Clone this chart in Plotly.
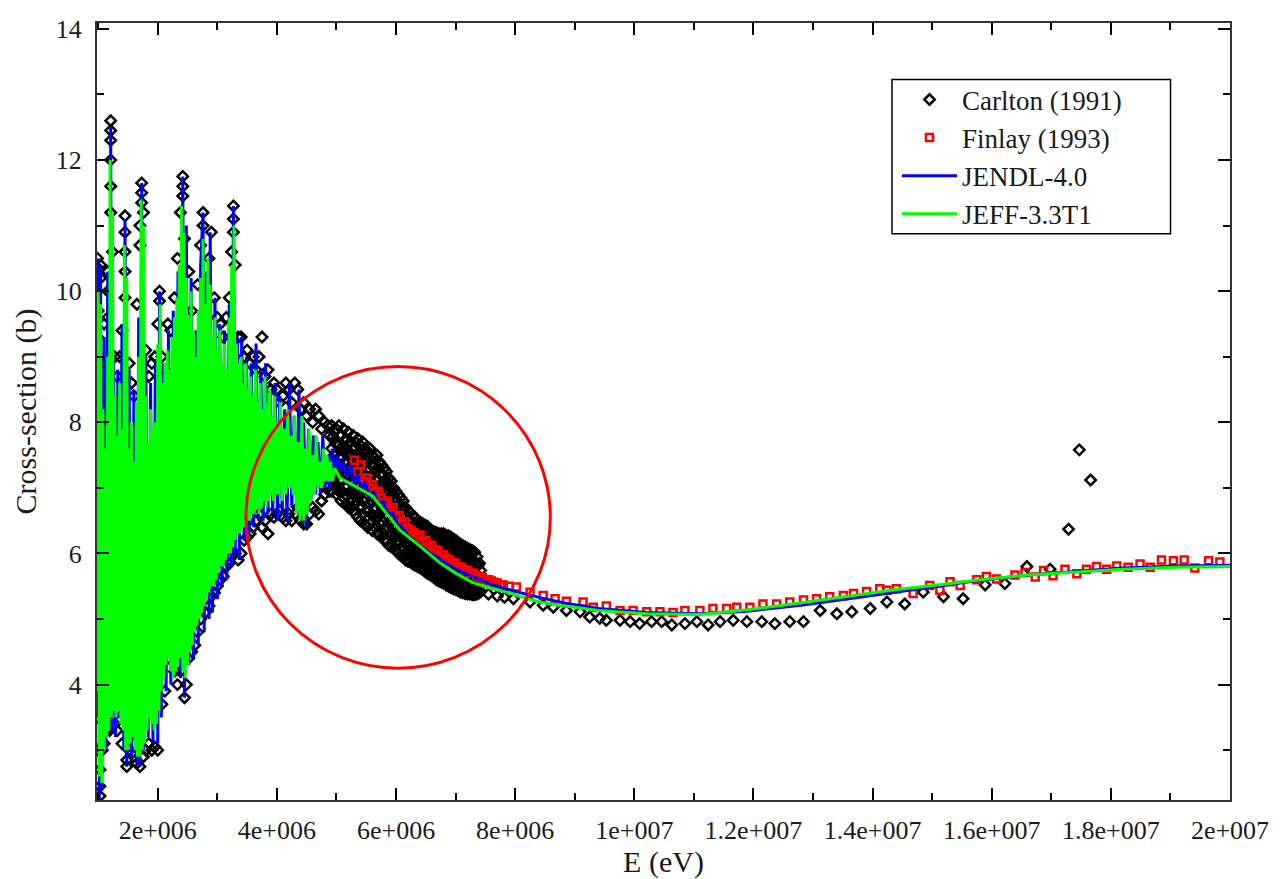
import plotly.graph_objects as go

# ---------------- data (energies in MeV, cross-sections in barn) ----------------
# JEFF-3.3T1 (green)
jeff_e = [0.98, 1.00, 1.02, 1.04, 1.06, 1.08, 1.10, 1.12, 1.14, 1.16, 1.18, 1.20, 1.22, 1.24, 1.26, 1.28,
          1.30, 1.32, 1.34, 1.36, 1.38, 1.40, 1.42, 1.44, 1.46, 1.48, 1.50, 1.52, 1.54, 1.56, 1.58, 1.60,
          1.62, 1.64, 1.66, 1.68, 1.70, 1.72, 1.74, 1.76, 1.78, 1.80, 1.82, 1.84, 1.86, 1.88, 1.90, 1.92,
          1.94, 1.96, 1.98, 2.00, 2.02, 2.04, 2.06, 2.08, 2.10, 2.12, 2.14, 2.16, 2.18, 2.20, 2.22, 2.24,
          2.26, 2.28, 2.30, 2.32, 2.34, 2.36, 2.38, 2.40, 2.42, 2.44, 2.46, 2.48, 2.50, 2.52, 2.54, 2.56,
          2.58, 2.60, 2.62, 2.64, 2.66, 2.68, 2.70, 2.72, 2.74, 2.76, 2.78, 2.80, 2.82, 2.84, 2.86, 2.88,
          2.90, 2.92, 2.94, 2.96, 2.98, 3.00, 3.02, 3.04, 3.06, 3.08, 3.10, 3.12, 3.14, 3.16, 3.18, 3.20,
          3.22, 3.24, 3.26, 3.28, 3.30, 3.32, 3.34, 3.36, 3.38, 3.40, 3.42, 3.44, 3.46, 3.48, 3.50, 3.52,
          3.54, 3.56, 3.58, 3.60, 3.62, 3.64, 3.66, 3.68, 3.70, 3.72, 3.74, 3.76, 3.78, 3.80, 3.82, 3.84,
          3.86, 3.88, 3.90, 3.92, 3.94, 3.96, 3.98, 4.00, 4.03, 4.06, 4.09, 4.12, 4.15, 4.18, 4.21, 4.24,
          4.27, 4.30, 4.33, 4.36, 4.39, 4.42, 4.45, 4.48, 4.51, 4.54, 4.57, 4.60, 4.63, 4.66, 4.69, 4.72,
          4.75, 4.78, 4.81, 4.84, 4.87, 4.90, 4.93, 4.97,
          5.06, 5.30, 5.60, 5.85, 6.06, 6.39, 6.73, 7.00, 7.28, 7.55, 7.85, 8.41, 8.74, 9.40, 10.2, 11.1,
          11.9, 12.8, 13.6, 14.4, 15.2, 15.8, 16.6, 17.4, 18.2, 19.1, 20.0]
jeff_s = [3.9, 10.0, 2.6, 9.8, 2.5, 8.2, 3.0, 7.6, 3.2, 9.0, 3.3, 12.0, 3.5, 11.2, 3.6, 8.4,
          3.5, 7.8, 3.6, 8.6, 3.4, 7.9, 3.3, 10.7, 3.0, 10.2, 3.0, 7.6, 3.1, 8.0, 3.2, 7.4,
          3.0, 8.3, 2.9, 9.0, 2.9, 11.4, 3.0, 11.0, 3.1, 8.4, 3.3, 7.7, 3.5, 8.2, 3.4, 7.9,
          3.3, 8.0, 3.4, 9.2, 3.6, 9.8, 3.9, 8.6, 4.1, 8.9, 4.3, 9.1, 4.4, 8.8, 4.2, 9.3,
          4.1, 9.6, 4.2, 9.9, 4.3, 10.4, 4.4, 11.3, 4.2, 10.9, 4.1, 10.2, 4.3, 9.6, 4.5, 10.0,
          4.6, 9.4, 4.8, 9.0, 4.9, 9.7, 5.0, 10.2, 5.1, 10.8, 5.2, 9.8, 5.3, 10.5, 5.4, 10.1,
          5.5, 9.3, 5.5, 9.6, 5.6, 9.1, 5.7, 9.4, 5.8, 8.9, 5.8, 9.2, 5.9, 8.8, 6.0, 9.6,
          6.0, 10.4, 6.1, 11.0, 6.2, 9.2, 6.3, 8.9, 6.3, 9.0, 6.4, 8.6, 6.4, 8.9, 6.5, 8.5,
          6.5, 8.7, 6.6, 8.4, 6.6, 8.8, 6.7, 8.3, 6.6, 8.6, 6.7, 8.2, 6.8, 8.7, 6.7, 8.3,
          6.8, 8.5, 6.9, 8.1, 6.8, 8.4, 6.9, 8.0, 6.9, 8.3, 6.8, 7.9, 6.9, 8.2, 7.0, 7.8,
          6.9, 8.1, 6.6, 7.7, 6.5, 8.1, 6.5, 7.6, 6.6, 7.9, 6.8, 7.5, 6.9, 7.8, 7.0, 7.4,
          7.0, 7.6, 7.1, 7.5, 7.1, 7.4, 7.1, 7.3,
          7.15, 7.03, 6.88, 6.6, 6.36, 6.12, 5.86, 5.7, 5.56, 5.48, 5.41, 5.26, 5.21, 5.13, 5.08, 5.07,
          5.14, 5.25, 5.35, 5.45, 5.53, 5.60, 5.67, 5.72, 5.76, 5.79, 5.80]

# JENDL-4.0 (blue)
jendl_e = [0.98, 1.00, 1.02, 1.04, 1.06, 1.10, 1.13, 1.16, 1.19, 1.21, 1.23, 1.26, 1.29, 1.33, 1.36, 1.40,
           1.43, 1.45, 1.48, 1.52, 1.56, 1.60, 1.64, 1.68, 1.70, 1.73, 1.76, 1.80, 1.84, 1.88, 1.92, 1.96,
           2.00, 2.03, 2.06, 2.10, 2.14, 2.18, 2.22, 2.26, 2.30, 2.34, 2.38, 2.42, 2.45, 2.48, 2.52, 2.56,
           2.60, 2.64, 2.68, 2.72, 2.76, 2.78, 2.82, 2.86, 2.88, 2.92, 2.96, 3.00, 3.04, 3.08, 3.12, 3.16,
           3.20, 3.24, 3.27, 3.30, 3.34, 3.37, 3.41, 3.45, 3.49, 3.53, 3.57, 3.61, 3.65, 3.69, 3.73, 3.77,
           3.81, 3.85, 3.89, 3.93, 3.97, 4.01, 4.05, 4.09, 4.13, 4.17, 4.21, 4.25, 4.29, 4.33, 4.37, 4.41,
           4.45, 4.49, 4.53, 4.57, 4.61, 4.65, 4.69, 4.73, 4.77, 4.81, 4.85, 4.89, 4.93, 4.97,
           5.02, 5.07, 5.12, 5.18, 5.24, 5.30, 5.36, 5.42, 5.48, 5.55, 5.62, 5.70, 5.78, 5.86, 5.94, 6.02,
           6.10, 6.20, 6.30, 6.40, 6.55, 6.70, 6.85, 7.00, 7.20, 7.40, 7.60, 7.80, 8.00, 8.40, 8.80, 9.40,
           10.2, 11.1, 11.9, 12.8, 13.6, 14.4, 15.2, 15.8, 16.6, 17.4, 18.2, 19.1, 20.0]
jendl_s = [3.5, 10.5, 2.25, 10.4, 2.4, 9.3, 3.0, 10.3, 3.4, 12.5, 3.3, 9.0, 3.2, 8.8, 3.5, 9.5,
           3.0, 11.1, 2.75, 8.8, 2.9, 8.5, 2.8, 9.6, 2.75, 11.65, 3.0, 9.0, 3.2, 8.6, 3.1, 8.9,
           3.1, 10.0, 3.5, 8.9, 3.9, 9.4, 4.0, 9.7, 4.2, 10.3, 4.1, 11.75, 3.8, 11.0, 4.3, 10.2,
           4.4, 9.4, 4.6, 10.4, 11.2, 4.8, 10.3, 5.0, 10.9, 5.1, 9.9, 5.3, 9.5, 5.5, 9.4, 5.6,
           9.8, 5.8, 11.3, 6.0, 9.3, 5.9, 9.3, 6.2, 9.0, 6.3, 8.9, 6.4, 9.2, 6.5, 8.8, 6.5,
           8.9, 6.6, 8.5, 6.6, 8.6, 6.5, 8.4, 6.6, 8.2, 6.5, 8.6, 6.7, 8.1, 6.7, 8.5, 6.5,
           8.0, 6.4, 7.9, 6.8, 7.8, 6.9, 7.7, 6.9, 7.8, 7.0, 7.5, 7.0, 7.6, 7.2,
           7.5, 7.25, 7.4, 7.15, 7.35, 7.05, 7.2, 6.95, 7.1, 6.85, 6.95, 6.75, 6.8, 6.6, 6.62, 6.45,
           6.4, 6.28, 6.2, 6.12, 6.02, 5.93, 5.84, 5.76, 5.68, 5.6, 5.53, 5.47, 5.42, 5.33, 5.25, 5.16,
           5.10, 5.08, 5.12, 5.21, 5.31, 5.41, 5.51, 5.59, 5.67, 5.73, 5.78, 5.81, 5.82]

# Carlton (1991) (black open diamonds) - resonance region, dense band and sparse tail
carlton_e = [0.99, 1.00, 0.99, 1.00, 0.99, 1.00, 0.99, 1.00, 0.99, 1.00, 0.99, 1.00, 0.99, 1.00, 0.99, 1.00, 0.99, 1.00,
             1.03, 1.03, 1.03, 1.04, 1.04, 1.07, 1.07, 1.07, 1.10, 1.10, 1.13, 1.13, 1.16, 1.16, 1.16, 1.16, 1.19,
             1.21, 1.21, 1.21, 1.21, 1.21, 1.21, 1.24, 1.24, 1.28, 1.28, 1.32, 1.32, 1.36, 1.36, 1.40, 1.40,
             1.45, 1.45, 1.45, 1.45, 1.45, 1.48, 1.48, 1.52, 1.52, 1.56, 1.56, 1.60, 1.60, 1.65, 1.65,
             1.70, 1.70, 1.70, 1.73, 1.73, 1.73, 1.76, 1.76, 1.80, 1.80, 1.85, 1.85, 1.90, 1.90, 1.95, 1.95,
             2.00, 2.00, 2.03, 2.03, 2.07, 2.07, 2.12, 2.12, 2.17, 2.17, 2.22, 2.22, 2.28, 2.28, 2.33, 2.33,
             2.38, 2.38, 2.42, 2.42, 2.42, 2.45, 2.45, 2.48, 2.52, 2.52, 2.57, 2.57, 2.62, 2.62, 2.67, 2.67,
             2.72, 2.72, 2.76, 2.76, 2.80, 2.80, 2.86, 2.86, 2.90, 2.90, 2.95, 2.95, 3.00, 3.00, 3.05, 3.05,
             3.10, 3.10, 3.15, 3.15, 3.20, 3.20, 3.24, 3.24, 3.27, 3.27, 3.27, 3.30, 3.30, 3.35, 3.35,
             3.40, 3.40, 3.45, 3.45, 3.50, 3.50, 3.55, 3.55, 3.60, 3.60, 3.65, 3.65, 3.70, 3.70, 3.75, 3.75,
             3.80, 3.80, 3.85, 3.85, 3.90, 3.90, 3.95, 3.95, 4.00, 4.00, 4.05, 4.05, 4.10, 4.10, 4.15, 4.15,
             4.20, 4.20, 4.25, 4.25, 4.30, 4.30, 4.35, 4.35, 4.40, 4.40, 4.45, 4.45, 4.50, 4.50, 4.55, 4.55,
             4.60, 4.60, 4.65, 4.65, 4.70, 4.70, 4.75, 4.75, 4.80, 4.80, 4.85, 4.85, 4.88, 4.88,
             4.92, 4.92, 4.92, 4.92, 4.96, 4.96, 4.96, 5.00, 5.00, 5.00, 5.00, 5.04, 5.04, 5.04, 5.04,
             5.08, 5.08, 5.08, 5.08, 5.12, 5.12, 5.12, 5.12, 5.16, 5.16, 5.16, 5.16, 5.20, 5.20, 5.20, 5.20,
             5.24, 5.24, 5.24, 5.24, 5.28, 5.28, 5.28, 5.28, 5.32, 5.32, 5.32, 5.32, 5.36, 5.36, 5.36, 5.36,
             5.40, 5.40, 5.40, 5.40, 5.44, 5.44, 5.44, 5.44, 5.48, 5.48, 5.48, 5.48, 5.52, 5.52, 5.52, 5.52,
             5.56, 5.56, 5.56, 5.56, 5.60, 5.60, 5.60, 5.60, 5.64, 5.64, 5.64, 5.64, 5.68, 5.68, 5.68, 5.68,
             5.72, 5.72, 5.72, 5.72, 5.76, 5.76, 5.76, 5.76, 5.80, 5.80, 5.80, 5.80, 5.84, 5.84, 5.84, 5.84,
             5.88, 5.88, 5.88, 5.88, 5.92, 5.92, 5.92, 5.92, 5.96, 5.96, 5.96, 5.96, 6.00, 6.00, 6.00, 6.00,
             6.04, 6.04, 6.04, 6.04, 6.08, 6.08, 6.08, 6.08, 6.12, 6.12, 6.12, 6.12, 6.16, 6.16, 6.16, 6.16,
             6.20, 6.20, 6.20, 6.20, 6.24, 6.24, 6.24, 6.24, 6.28, 6.28, 6.28, 6.28, 6.32, 6.32, 6.32, 6.32,
             6.36, 6.36, 6.36, 6.36, 6.40, 6.40, 6.40, 6.40, 6.44, 6.44, 6.44, 6.44, 6.48, 6.48, 6.48, 6.48,
             6.52, 6.52, 6.52, 6.52, 6.56, 6.56, 6.56, 6.56, 6.60, 6.60, 6.60, 6.60, 6.64, 6.64, 6.64, 6.64,
             6.68, 6.68, 6.68, 6.68, 6.72, 6.72, 6.72, 6.72, 6.76, 6.76, 6.76, 6.76, 6.80, 6.80, 6.80, 6.80,
             6.84, 6.84, 6.84, 6.84, 6.88, 6.88, 6.88, 6.88, 6.92, 6.92, 6.92, 6.92, 6.96, 6.96, 6.96, 6.96,
             7.00, 7.00, 7.00, 7.00, 7.04, 7.04, 7.04, 7.04, 7.08, 7.08, 7.08, 7.08, 7.12, 7.12, 7.12, 7.12,
             7.16, 7.16, 7.16, 7.16, 7.20, 7.20, 7.20, 7.20, 7.24, 7.24, 7.24, 7.24, 7.28, 7.28, 7.28, 7.28,
             7.32, 7.32, 7.32, 7.32, 7.36, 7.36, 7.36, 7.36, 7.40, 7.40, 7.40, 7.40,
             7.55, 7.70, 7.82, 7.97, 8.25, 8.47, 8.64, 8.86, 9.09, 9.25, 9.42, 9.53, 9.76, 9.93, 10.09,
             10.29, 10.46, 10.63, 10.85, 11.05, 11.24, 11.44, 11.66, 11.89, 12.14, 12.36, 12.61, 12.84,
             13.12, 13.40, 13.65, 13.96, 14.24, 14.54, 14.85, 15.19, 15.52, 15.89, 16.22, 16.59, 16.98,
             17.29, 17.47, 17.66]
carlton_s = [10.5, 10.35, 10.0, 9.7, 9.3, 8.9, 8.4, 8.0, 7.5, 7.0, 6.5, 6.0, 5.5, 5.0, 4.5, 4.0, 3.5, 3.0,
             2.3, 2.45, 2.7, 10.4, 10.2, 8.9, 8.2, 3.0, 9.5, 3.1, 8.0, 3.3, 10.3, 10.0, 9.6, 3.4, 3.3,
             12.6, 12.45, 12.3, 12.0, 11.6, 11.2, 3.5, 10.6, 9.0, 3.4, 8.7, 3.3, 9.0, 3.6, 9.4, 3.1,
             11.15, 10.9, 10.6, 10.3, 9.9, 2.75, 2.85, 8.9, 3.0, 8.6, 2.95, 8.4, 3.1, 9.8, 2.8,
             11.0, 10.7, 2.75, 11.65, 11.5, 11.35, 11.2, 2.9, 9.1, 3.0, 8.7, 3.1, 8.9, 3.0, 9.0, 3.05,
             3.0, 9.5, 10.0, 9.85, 3.7, 9.0, 3.9, 8.8, 4.4, 9.5, 4.8, 9.4, 4.2, 9.9, 4.0, 10.5,
             11.2, 4.2, 11.75, 11.6, 11.45, 3.8, 10.8, 4.0, 4.4, 10.3, 4.5, 9.7, 4.6, 9.3, 4.8, 10.1,
             5.0, 10.7, 11.2, 11.0, 5.1, 10.0, 5.2, 10.5, 10.9, 5.35, 5.4, 9.9, 5.5, 9.6, 5.6, 9.5,
             5.65, 9.3, 5.8, 9.6, 5.85, 9.9, 10.6, 5.95, 11.3, 11.1, 10.9, 10.4, 6.0, 5.9, 9.3,
             6.0, 9.3, 6.2, 9.0, 6.25, 9.1, 6.3, 8.9, 6.4, 9.0, 6.5, 8.8, 6.6, 9.0, 6.4, 9.3,
             6.5, 8.7, 6.3, 8.8, 6.6, 8.5, 6.55, 8.6, 6.6, 8.5, 6.65, 8.3, 6.55, 8.4, 6.5, 8.6,
             6.6, 8.5, 6.5, 8.3, 6.6, 8.6, 6.7, 8.5, 6.5, 8.2, 6.45, 8.3, 6.45, 8.1, 6.6, 8.2,
             6.7, 8.0, 6.65, 8.2, 6.6, 8.1, 6.8, 7.9, 6.9, 8.0, 7.0, 7.95, 6.95, 7.8,
             7.95, 7.6, 7.25, 6.95, 7.85, 7.5, 7.15, 7.9, 7.4, 7.05, 6.9, 7.95, 7.65, 7.3, 6.95,
             7.8, 7.45, 7.1, 6.8, 7.9, 7.55, 7.2, 6.85, 7.75, 7.4, 7.0, 6.75, 7.85, 7.5, 7.15, 6.7,
             7.7, 7.3, 6.95, 6.7, 7.8, 7.45, 7.1, 6.65, 7.7, 7.35, 6.95, 6.6, 7.75, 7.2, 6.85, 6.55,
             7.65, 7.3, 6.95, 6.5, 7.7, 7.4, 7.0, 6.6, 7.6, 7.2, 6.85, 6.45, 7.55, 7.25, 6.9, 6.4,
             7.6, 7.1, 6.75, 6.45, 7.5, 7.2, 6.8, 6.35, 7.45, 7.05, 6.7, 6.4, 7.5, 7.15, 6.8, 6.3,
             7.4, 7.0, 6.6, 6.28, 7.35, 7.05, 6.7, 6.25, 7.3, 6.95, 6.55, 6.2, 7.25, 6.9, 6.6, 6.2,
             7.15, 6.85, 6.45, 6.12, 7.1, 6.75, 6.5, 6.1, 7.0, 6.7, 6.4, 6.08, 6.95, 6.65, 6.3, 6.05,
             6.9, 6.6, 6.35, 6.0, 6.85, 6.5, 6.25, 5.97, 6.8, 6.55, 6.2, 5.95, 6.7, 6.45, 6.15, 5.9,
             6.65, 6.4, 6.1, 5.88, 6.62, 6.35, 6.05, 5.87, 6.58, 6.3, 6.0, 5.84, 6.55, 6.28, 6.05, 5.82,
             6.5, 6.25, 5.98, 5.8, 6.48, 6.2, 5.95, 5.78, 6.46, 6.18, 5.92, 5.76, 6.43, 6.15, 5.9, 5.73,
             6.42, 6.12, 5.86, 5.7, 6.38, 6.1, 5.85, 5.68, 6.35, 6.08, 5.82, 5.66, 6.33, 6.05, 5.8, 5.63,
             6.32, 6.02, 5.77, 5.6, 6.3, 6.0, 5.75, 5.58, 6.3, 5.98, 5.72, 5.56, 6.3, 5.96, 5.7, 5.55,
             6.28, 5.95, 5.68, 5.52, 6.27, 5.93, 5.66, 5.5, 6.25, 5.9, 5.64, 5.48, 6.22, 5.88, 5.62, 5.46,
             6.2, 5.86, 5.6, 5.45, 6.17, 5.84, 5.58, 5.43, 6.14, 5.82, 5.56, 5.41, 6.12, 5.8, 5.55, 5.4,
             6.1, 5.78, 5.53, 5.39, 6.08, 5.76, 5.52, 5.38, 6.06, 5.74, 5.5, 5.38, 6.04, 5.72, 5.48, 5.37,
             6.02, 5.7, 5.47, 5.37, 5.95, 5.68, 5.45, 5.38, 5.85, 5.62, 5.43, 5.4,
             5.38, 5.35, 5.33, 5.31, 5.26, 5.21, 5.18, 5.13, 5.11, 5.03, 5.01, 4.98, 4.98, 4.96, 4.93,
             4.96, 4.96, 4.91, 4.93, 4.96, 4.91, 4.96, 4.98, 4.96, 4.96, 4.93, 4.96, 4.96,
             5.13, 5.08, 5.11, 5.16, 5.26, 5.23, 5.41, 5.34, 5.31, 5.52, 5.54, 5.80, 5.76,
             6.37, 7.58, 7.12]

# Carlton (1991) - additional points filling the dense 5-7.4 MeV band
carlton_band_e = [4.94, 4.94, 4.94, 4.98, 4.98, 4.98, 5.02, 5.02, 5.02, 5.06, 5.06, 5.06, 5.10, 5.10, 5.10,
                  5.14, 5.14, 5.14, 5.18, 5.18, 5.18, 5.22, 5.22, 5.22, 5.26, 5.26, 5.26, 5.30, 5.30, 5.30,
                  5.34, 5.34, 5.34, 5.38, 5.38, 5.38, 5.42, 5.42, 5.42, 5.46, 5.46, 5.46, 5.50, 5.50, 5.50,
                  5.54, 5.54, 5.54, 5.58, 5.58, 5.58, 5.62, 5.62, 5.62, 5.66, 5.66, 5.66, 5.70, 5.70, 5.70,
                  5.74, 5.74, 5.74, 5.78, 5.78, 5.78, 5.82, 5.82, 5.82, 5.86, 5.86, 5.86, 5.90, 5.90, 5.90,
                  5.94, 5.94, 5.94, 5.98, 5.98, 5.98, 6.02, 6.02, 6.02, 6.06, 6.06, 6.06, 6.10, 6.10, 6.10,
                  6.14, 6.14, 6.14, 6.18, 6.18, 6.18, 6.22, 6.22, 6.22, 6.26, 6.26, 6.26, 6.30, 6.30, 6.30,
                  6.34, 6.34, 6.34, 6.38, 6.38, 6.38, 6.42, 6.42, 6.42, 6.46, 6.46, 6.46, 6.50, 6.50, 6.50,
                  6.54, 6.54, 6.54, 6.58, 6.58, 6.58, 6.62, 6.62, 6.62, 6.66, 6.66, 6.66, 6.70, 6.70, 6.70,
                  6.74, 6.74, 6.74, 6.78, 6.78, 6.78, 6.82, 6.82, 6.82, 6.86, 6.86, 6.86, 6.90, 6.90, 6.90,
                  6.94, 6.94, 6.94, 6.98, 6.98, 6.98, 7.02, 7.02, 7.02, 7.06, 7.06, 7.06, 7.10, 7.10, 7.10,
                  7.14, 7.14, 7.14, 7.18, 7.18, 7.18, 7.22, 7.22, 7.22, 7.26, 7.26, 7.26, 7.30, 7.30, 7.30,
                  7.34, 7.34, 7.34, 7.38, 7.38, 7.38, 7.42, 7.42, 7.42]
carlton_band_s = [7.78, 7.42, 7.1, 7.68, 7.32, 7.0, 7.65, 7.22, 6.98, 7.8, 7.48, 7.12, 7.62, 7.28, 6.95,
                  7.72, 7.38, 7.02, 7.58, 7.2, 6.88, 7.68, 7.32, 6.92, 7.5, 7.12, 6.82, 7.62, 7.28, 6.88,
                  7.52, 7.15, 6.78, 7.48, 7.02, 6.7, 7.48, 7.12, 6.72, 7.55, 7.2, 6.8, 7.4, 7.02, 6.65,
                  7.4, 7.08, 6.65, 7.35, 6.92, 6.6, 7.35, 7.0, 6.58, 7.25, 6.88, 6.55, 7.32, 6.98, 6.55,
                  7.2, 6.8, 6.44, 7.2, 6.88, 6.48, 7.12, 6.75, 6.38, 7.08, 6.75, 6.4, 7.0, 6.65, 6.28,
                  6.92, 6.62, 6.3, 6.85, 6.55, 6.24, 6.8, 6.48, 6.18, 6.75, 6.48, 6.18, 6.68, 6.38, 6.1,
                  6.68, 6.38, 6.08, 6.58, 6.3, 6.02, 6.52, 6.25, 6.0, 6.48, 6.2, 5.96, 6.44, 6.15, 5.92,
                  6.42, 6.16, 5.94, 6.38, 6.12, 5.89, 6.34, 6.08, 5.86, 6.32, 6.05, 5.84, 6.29, 6.02, 5.82,
                  6.27, 5.99, 5.78, 6.24, 5.98, 5.76, 6.22, 5.95, 5.74, 6.19, 5.92, 5.72, 6.17, 5.9, 5.68,
                  6.15, 5.88, 5.66, 6.14, 5.85, 5.64, 6.13, 5.83, 5.62, 6.12, 5.82, 5.6, 6.1, 5.8, 5.58,
                  6.08, 5.77, 5.56, 6.05, 5.75, 5.54, 6.03, 5.73, 5.52, 6.0, 5.71, 5.5, 5.98, 5.69, 5.48,
                  5.96, 5.68, 5.47, 5.94, 5.66, 5.46, 5.92, 5.64, 5.45, 5.9, 5.62, 5.44, 5.88, 5.6, 5.42,
                  5.86, 5.58, 5.42, 5.82, 5.56, 5.42, 5.74, 5.52, 5.42]

# Finlay (1993) (red open squares)
finlay_e = [5.30, 5.35, 5.40, 5.45, 5.50, 5.55, 5.60, 5.65, 5.70, 5.75, 5.80, 5.85, 5.90, 5.95, 6.00, 6.05,
            6.10, 6.15, 6.20, 6.25, 6.30, 6.35, 6.40, 6.45, 6.50, 6.55, 6.60, 6.65, 6.70, 6.75, 6.80, 6.85,
            6.90, 6.95, 7.00, 7.05, 7.10, 7.15, 7.20, 7.25, 7.30, 7.35, 7.40, 7.45, 7.50, 7.55, 7.60, 7.65,
            7.70, 7.75, 7.80, 7.90, 8.02, 8.25, 8.47, 8.67, 8.86, 9.14, 9.31, 9.53, 9.76, 9.98, 10.21, 10.43,
            10.65, 10.85, 11.10, 11.32, 11.55, 11.72, 11.94, 12.16, 12.39, 12.61, 12.84, 13.06, 13.28, 13.51,
            13.68, 13.90, 14.12, 14.24, 14.40, 14.68, 14.96, 15.13, 15.30, 15.47, 15.75, 15.91, 16.08, 16.39,
            16.56, 16.73, 16.87, 17.03, 17.23, 17.43, 17.59, 17.76, 17.93, 18.10, 18.29, 18.49, 18.66, 18.85,
            19.05, 19.23, 19.41, 19.64, 19.83]
finlay_s = [7.42, 7.25, 7.35, 7.1, 7.15, 7.0, 7.05, 6.9, 6.95, 6.85, 6.78, 6.8, 6.65, 6.7, 6.55, 6.58,
            6.45, 6.48, 6.38, 6.35, 6.32, 6.25, 6.28, 6.18, 6.2, 6.1, 6.12, 6.05, 6.05, 5.98, 5.98, 5.92,
            5.9, 5.86, 5.85, 5.8, 5.79, 5.75, 5.74, 5.7, 5.7, 5.66, 5.65, 5.63, 5.6, 5.6, 5.58, 5.56,
            5.55, 5.52, 5.52, 5.5, 5.49, 5.41, 5.36, 5.31, 5.27, 5.26, 5.18, 5.2, 5.13, 5.13, 5.11, 5.11,
            5.10, 5.13, 5.13, 5.16, 5.16, 5.18, 5.18, 5.23, 5.23, 5.26, 5.29, 5.31, 5.34, 5.36,
            5.39, 5.42, 5.46, 5.44, 5.46, 5.39, 5.51, 5.44, 5.57, 5.51, 5.60, 5.65, 5.61, 5.67,
            5.71, 5.64, 5.74, 5.66, 5.76, 5.69, 5.76, 5.80, 5.76, 5.81, 5.79, 5.84, 5.79, 5.90,
            5.89, 5.90, 5.78, 5.89, 5.87]

x_tick_vals = [2e6, 4e6, 6e6, 8e6, 1e7, 1.2e7, 1.4e7, 1.6e7, 1.8e7, 2e7]
x_tick_text = ["2e+006", "4e+006", "6e+006", "8e+006", "1e+007", "1.2e+007", "1.4e+007",
               "1.6e+007", "1.8e+007", "2e+007"]

MEV = 1e6
FONT = "Liberation Serif"
TXT = "#1a1a1a"

fig = go.Figure()
fig.add_trace(go.Scatter(
    x=[e * MEV for e in carlton_e + carlton_band_e], y=carlton_s + carlton_band_s,
    mode="markers", name="Carlton (1991)",
    marker=dict(symbol="diamond-open", size=8, color="black", line=dict(width=2.5, color="black"))))
fig.add_trace(go.Scatter(
    x=[e * MEV for e in finlay_e], y=finlay_s, mode="markers", name="Finlay (1993)",
    marker=dict(symbol="square-open", size=7, color="red", line=dict(width=2.5, color="red"))))
fig.add_trace(go.Scatter(
    x=[e * MEV for e in jendl_e], y=jendl_s, mode="lines", name="JENDL-4.0",
    line=dict(color="blue", width=3)))
fig.add_trace(go.Scatter(
    x=[e * MEV for e in jeff_e], y=jeff_s, mode="lines", name="JEFF-3.3T1",
    line=dict(color="#00ff00", width=3)))

# highlighted region
fig.add_shape(type="circle", xref="x", yref="y", x0=3.48e6, x1=8.59e6, y0=4.25, y1=8.85,
              line=dict(color="red", width=3), layer="above")
# legend frame
fig.add_shape(type="rect", xref="paper", yref="paper", x0=0.7017, x1=0.9475, y0=0.7287, y1=0.9274,
              line=dict(color="black", width=1.5), fillcolor="white", layer="below")

axis_common = dict(showline=True, linecolor="#333333", linewidth=2, mirror="ticks",
                   ticks="inside", ticklen=12, tickwidth=1.5, tickcolor="black",
                   showgrid=False, zeroline=False,
                   tickfont=dict(family=FONT, size=26, color=TXT))

fig.update_layout(
    width=1282, height=879,
    margin=dict(l=89, r=60, t=7, b=87),
    paper_bgcolor="white", plot_bgcolor="white",
    font=dict(family=FONT, color=TXT),
    xaxis=dict(range=[0.98e6, 2e7], tickmode="array", tickvals=x_tick_vals, ticktext=x_tick_text,
               minor=dict(dtick=1e6, tick0=0, ticks="inside", ticklen=7, tickcolor="black", tickwidth=1.5),
               ticklabelstandoff=6,
               title=dict(text="E (eV)", font=dict(family=FONT, size=30, color=TXT), standoff=2),
               **axis_common),
    yaxis=dict(range=[2.24, 14.09], tickmode="linear", tick0=0, dtick=2,
               minor=dict(dtick=1, tick0=0, ticks="inside", ticklen=7, tickcolor="black", tickwidth=1.5),
               ticklabelstandoff=8,
               title=dict(text="Cross-section (b)", font=dict(family=FONT, size=30, color=TXT), standoff=10),
               **axis_common),
    legend=dict(x=0.7061, y=0.9325, xanchor="left", yanchor="top", bgcolor="rgba(0,0,0,0)",
                borderwidth=0, font=dict(family=FONT, size=27, color=TXT), itemwidth=55),
    showlegend=True,
)

fig.write_html("out.html")
